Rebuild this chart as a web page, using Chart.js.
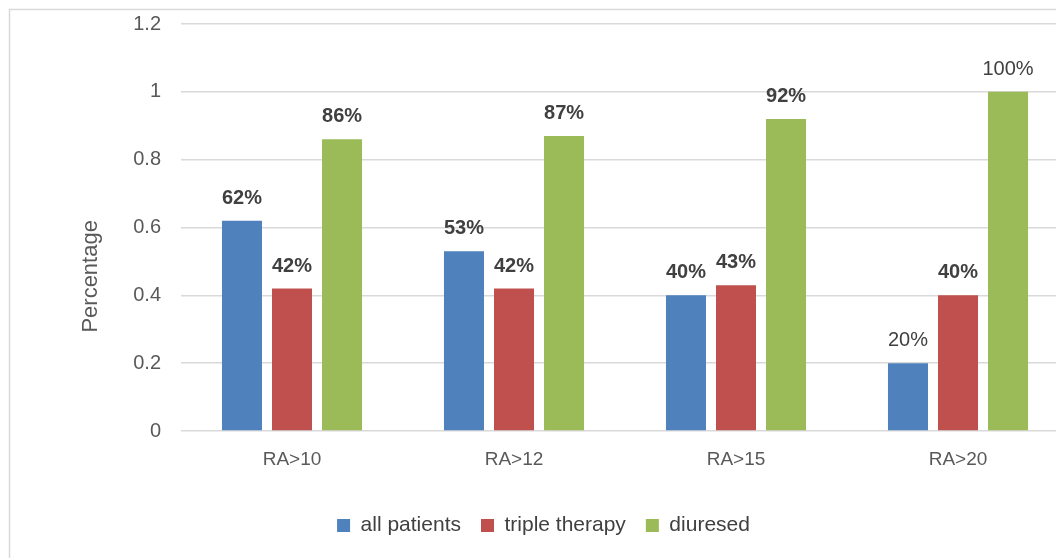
<!DOCTYPE html>
<html>
<head>
<meta charset="utf-8">
<script src="https://cdn.jsdelivr.net/npm/chart.js@4/dist/chart.umd.min.js"></script>
<style>
html,body{margin:0;padding:0;background:#fff;overflow:hidden;width:1056px;height:558px;}
#wrap{position:relative;width:1080px;height:558px;}
</style>
</head>
<body>
<div id="wrap"><canvas id="c" width="1080" height="558"></canvas></div>
<script>
const categories = ["RA>10", "RA>12", "RA>15", "RA>20"];
const seriesNames = ["all patients", "triple therapy", "diuresed"];
const allPatients = [0.62, 0.53, 0.40, 0.20];
const tripleTherapy = [0.42, 0.42, 0.43, 0.40];
const diuresed = [0.86, 0.87, 0.92, 1.00];
const yTickValues = [0, 0.2, 0.4, 0.6, 0.8, 1, 1.2];
const yTitle = "Percentage";

const colors = ["#4F81BD", "#C0504D", "#9BBB59"];
const plainWeightLabels = [[0, 3], [2, 3]]; // [datasetIndex, index] drawn in normal weight
const FONT = "'Liberation Sans', Arial, sans-serif";

const frame = {
  id: 'frame',
  beforeDraw(chart) {
    const ctx = chart.ctx;
    ctx.save();
    ctx.strokeStyle = '#d9d9d9';
    ctx.lineWidth = 1.5;
    ctx.beginPath();
    ctx.moveTo(9.5, chart.height);
    ctx.lineTo(9.5, 9.5);
    ctx.lineTo(chart.width, 9.5);
    ctx.stroke();
    ctx.restore();
  }
};

const valueLabels = {
  id: 'valueLabels',
  afterDatasetsDraw(chart) {
    const ctx = chart.ctx;
    ctx.save();
    ctx.textAlign = 'center';
    ctx.textBaseline = 'alphabetic';
    ctx.fillStyle = '#404040';
    chart.data.datasets.forEach((ds, di) => {
      const meta = chart.getDatasetMeta(di);
      meta.data.forEach((bar, i) => {
        const plain = plainWeightLabels.some(p => p[0] === di && p[1] === i);
        ctx.font = (plain ? 'normal ' : 'bold ') + '20px ' + FONT;
        const txt = Math.round(ds.data[i] * 100) + '%';
        ctx.fillText(txt, bar.x, bar.y - 17);
      });
    });
    ctx.restore();
  }
};

const axisTitle = {
  id: 'axisTitle',
  afterDraw(chart) {
    const ctx = chart.ctx;
    const a = chart.chartArea;
    ctx.save();
    ctx.translate(91, a.top + (a.bottom - a.top) * 0.62);
    ctx.rotate(-Math.PI / 2);
    ctx.textAlign = 'center';
    ctx.textBaseline = 'middle';
    ctx.fillStyle = '#595959';
    ctx.font = '22px ' + FONT;
    ctx.fillText(yTitle, 0, 0);
    ctx.restore();
  }
};

new Chart(document.getElementById('c'), {
  type: 'bar',
  data: {
    labels: categories,
    datasets: [
      { label: seriesNames[0], data: allPatients, backgroundColor: colors[0] },
      { label: seriesNames[1], data: tripleTherapy, backgroundColor: colors[1] },
      { label: seriesNames[2], data: diuresed, backgroundColor: colors[2] }
    ]
  },
  options: {
    responsive: false,
    animation: false,
    layout: { padding: { top: 24, left: 18, right: 11, bottom: 12 } },
    datasets: { bar: { barPercentage: 0.8, categoryPercentage: 0.676 } },
    scales: {
      x: {
        grid: { display: false, drawTicks: false },
        border: { display: false },
        ticks: { color: '#595959', font: { family: FONT, size: 19 }, padding: 17 },
        afterFit(s) { s.height = 64; }
      },
      y: {
        min: 0, max: 1.2,
        afterBuildTicks(s) { s.ticks = yTickValues.map(v => ({ value: v })); },
        grid: { color: '#d9d9d9', lineWidth: 1.5, drawTicks: false },
        border: { display: false },
        ticks: {
          color: '#595959', font: { family: FONT, size: 20 }, padding: 20,
          callback: v => String(Math.round(v * 10) / 10)
        },
        afterFit(s) { s.width = 163; s.paddingTop = 0; s.paddingBottom = 0; }
      }
    },
    plugins: {
      legend: {
        position: 'bottom',
        labels: {
          color: '#404040',
          font: { family: FONT, size: 21 },
          boxWidth: 13, boxHeight: 13,
          padding: 20
        }
      },
      tooltip: { enabled: false }
    }
  },
  plugins: [frame, valueLabels, axisTitle]
});
</script>
</body>
</html>
